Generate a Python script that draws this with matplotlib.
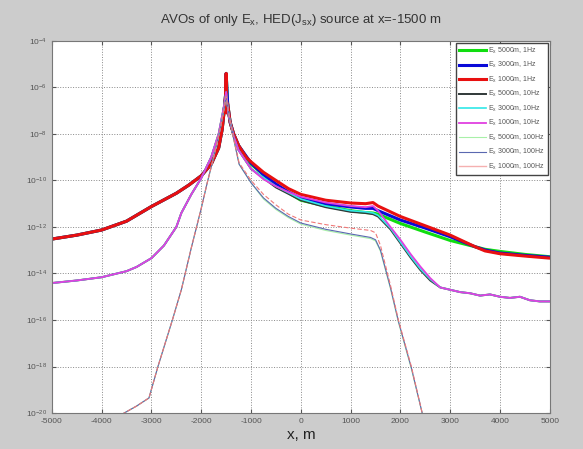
import matplotlib
matplotlib.use('Agg')
import matplotlib.pyplot as plt
import numpy as np

plt.rcParams['font.family'] = ['Liberation Sans', 'DejaVu Sans']
plt.rcParams['mathtext.fontset'] = 'custom'
plt.rcParams['mathtext.rm'] = 'Liberation Sans'
plt.rcParams['mathtext.it'] = 'Liberation Sans:italic'
plt.rcParams['axes.unicode_minus'] = False

# values are log10 of |Ex|
# shared left branches (x < source) per frequency
x_1hz_left = [-5000, -4500, -4000, -3500, -3000, -2500, -2250, -2000, -1800, -1650, -1580, -1540, -1510, -1500]
y_1hz_left = [-12.52, -12.35, -12.13, -11.75, -11.12, -10.55, -10.2, -9.8, -9.3, -8.6, -7.8, -7.0, -6.3, -5.4]

x_10hz_left = [-5000, -4500, -4000, -3500, -3300, -3000, -2750, -2500, -2400, -2200, -2000, -1800, -1650, -1550, -1500]
y_10hz_left = [-14.41, -14.3, -14.16, -13.9, -13.72, -13.34, -12.8, -12.0, -11.4, -10.6, -9.9, -9.0, -8.0, -6.9, -6.2]

x_100hz_left = [-3600, -3300, -3050, -2870, -2580, -2400, -2200, -2000, -1880, -1750, -1620, -1540, -1500]
y_100hz_left = [-20.06, -19.7, -19.35, -18.0, -16.0, -14.7, -12.9, -11.2, -10.1, -9.0, -7.8, -6.9, -6.4]

# right branches
x_red_r = [-1500, -1490, -1470, -1420, -1350, -1250, -1100, -1000, -750, -500, -250, 0, 500, 1000, 1300, 1450,
           1550, 2000, 2500, 3000, 3500, 3700, 4000, 4500, 5000]
y_red_r = [-5.4, -7.1, -6.7, -7.5, -8.0, -8.5, -9.0, -9.2, -9.65, -10.0, -10.35, -10.6, -10.85, -10.97, -11.0, -10.95,
           -11.1, -11.55, -11.95, -12.35, -12.85, -13.03, -13.15, -13.25, -13.34]

x_blue_r = [-1500, -1470, -1420, -1350, -1250, -1000, -750, -500, -250, 0, 500, 1000, 1300, 1450, 1550, 2000, 2500,
            3000, 3500, 3700, 4000, 4500, 5000]
y_blue_r = [-5.4, -6.7, -7.5, -8.0, -8.5, -9.25, -9.75, -10.15, -10.5, -10.75, -11.0, -11.14, -11.2, -11.2, -11.3,
            -11.7, -12.05, -12.42, -12.85, -12.99, -13.12, -13.22, -13.3]

x_green_r = [-1500, -1470, -1420, -1350, -1250, -1000, -500, 0, 500, 1000, 1300, 1450, 1550, 2000, 2500, 3000, 3500,
             3700, 4000, 4500, 5000]
y_green_r = [-5.4, -6.7, -7.5, -8.0, -8.5, -9.3, -10.2, -10.85, -11.1, -11.3, -11.38, -11.4, -11.45, -11.85, -12.22,
             -12.58, -12.85, -12.96, -13.05, -13.18, -13.28]

x_mag_r = [-1500, -1450, -1350, -1250, -1000, -750, -500, -250, 0, 500, 1000, 1300, 1450, 1550, 1800, 2000, 2200,
           2400, 2600, 2800, 3000, 3200, 3400, 3600, 3800, 4000, 4200, 4400, 4600, 4800, 5000]
y_mag_r = [-6.2, -7.2, -8.1, -8.7, -9.5, -9.95, -10.25, -10.5, -10.7, -10.95, -11.1, -11.15, -11.1, -11.3, -12.0,
           -12.55, -13.15, -13.7, -14.2, -14.6, -14.7, -14.8, -14.85, -14.95, -14.9, -15.0, -15.05, -15.0, -15.15,
           -15.2, -15.2]

x_black_r = [-1500, -1450, -1350, -1250, -1000, -500, 0, 500, 1000, 1300, 1450, 1550, 1800, 2000, 2200, 2400, 2600,
             2800, 3000, 3200, 3400, 3600, 3800, 4000, 4200, 4400, 4600, 4800, 5000]
y_black_r = [-6.2, -7.2, -8.1, -8.7, -9.5, -10.3, -10.85, -11.15, -11.35, -11.4, -11.45, -11.55, -12.1, -12.7, -13.3,
             -13.85, -14.3, -14.6, -14.7, -14.8, -14.85, -14.95, -14.9, -15.0, -15.05, -15.0, -15.15, -15.2, -15.2]

x_cyan_r = x_black_r
y_cyan_r = [-6.2, -7.2, -8.1, -8.7, -9.5, -10.25, -10.8, -11.1, -11.3, -11.35, -11.4, -11.5, -12.05, -12.65, -13.25,
            -13.8, -14.25, -14.6, -14.7, -14.8, -14.85, -14.95, -14.9, -15.0, -15.05, -15.0, -15.15, -15.2, -15.2]

x_pink_r = [-1500, -1440, -1350, -1240, -1000, -750, -500, -250, 0, 500, 1000, 1400, 1500, 1600, 1800, 1960, 2220, 2460]
y_pink_r = [-6.4, -7.2, -8.2, -9.24, -10.0, -10.6, -11.05, -11.45, -11.7, -11.9, -12.05, -12.15, -12.25, -12.8,
            -14.5, -16.0, -18.0, -20.2]

x_bthin_r = x_pink_r
y_bthin_r = [-6.4, -7.2, -8.2, -9.3, -10.1, -10.75, -11.2, -11.55, -11.83, -12.1, -12.3, -12.45, -12.55, -13.0,
             -14.6, -16.05, -18.05, -20.2]
y_gthin_r = [-6.4, -7.2, -8.2, -9.3, -10.1, -10.8, -11.25, -11.6, -11.88, -12.15, -12.35, -12.5, -12.6, -13.05,
             -14.65, -16.1, -18.1, -20.2]

labels = ['E$_\\mathrm{x}$ 5000m, 1Hz', 'E$_\\mathrm{x}$ 3000m, 1Hz', 'E$_\\mathrm{x}$ 1000m, 1Hz',
          'E$_\\mathrm{x}$ 5000m, 10Hz', 'E$_\\mathrm{x}$ 3000m, 10Hz', 'E$_\\mathrm{x}$ 1000m, 10Hz',
          'E$_\\mathrm{x}$ 5000m, 100Hz', 'E$_\\mathrm{x}$ 3000m, 100Hz', 'E$_\\mathrm{x}$ 1000m, 100Hz']


def join(xl, yl, xr, yr):
    x = np.array(list(xl) + list(xr[1:]))
    y = 10.0 ** np.array(list(yl) + list(yr[1:]))
    return x, y


series = [
    (join(x_1hz_left, y_1hz_left, x_green_r, y_green_r), '#10dd10', 2.2, '-'),
    (join(x_1hz_left, y_1hz_left, x_blue_r, y_blue_r), '#0a0ad8', 2.2, '-'),
    (join(x_1hz_left, y_1hz_left, x_red_r, y_red_r), '#e81010', 2.2, '-'),
    (join(x_10hz_left, y_10hz_left, x_black_r, y_black_r), '#303838', 1.4, '-'),
    (join(x_10hz_left, y_10hz_left, x_cyan_r, y_cyan_r), '#30e8e8', 1.2, '-'),
    (join(x_10hz_left, y_10hz_left, x_mag_r, y_mag_r), '#e040e0', 1.3, '-'),
    (join(x_100hz_left, y_100hz_left, x_bthin_r, y_gthin_r), '#a8f0a8', 0.8, '-'),
    (join(x_100hz_left, y_100hz_left, x_bthin_r, y_bthin_r), '#5a68b0', 0.8, '-'),
    (join(x_100hz_left, y_100hz_left, x_pink_r, y_pink_r), '#f07878', 0.8, (0, (4, 2))),
]

fig = plt.figure(figsize=(5.83, 4.49), dpi=100, facecolor='#cccccc')
ax = fig.add_axes([0.089, 0.08, 0.854, 0.829])
ax.set_facecolor('white')

for (x, y), c, lw, ls in series:
    ax.semilogy(x, y, color=c, lw=lw, ls=ls)

ax.set_xlim(-5000, 5000)
ax.set_ylim(1e-20, 1e-4)
ax.set_xticks(np.arange(-5000, 5001, 1000))
ax.set_yticks(10.0 ** np.arange(-20, -3, 2))
ax.yaxis.set_minor_locator(matplotlib.ticker.NullLocator())
ax.tick_params(labelsize=6, colors='#555555', length=3, direction='in', top=True, right=True)
ax.grid(True, ls=':', color='#888888', lw=0.7)
for s in ax.spines.values():
    s.set_color('#777777')

ax.set_title('AVOs of only E$_\\mathrm{x}$, HED(J$_\\mathrm{sx}$) source at x=-1500 m',
             fontsize=9.5, color='#333333', pad=13)
ax.set_xlabel('x, m', fontsize=11, color='#222222', labelpad=2)

leg_h = [plt.Line2D([], [], color=c, lw=lw) for (_, c, lw, _) in series]
leg_h[-1] = plt.Line2D([], [], color='#f5b0b0', lw=1)
leg = ax.legend(leg_h, labels, loc='upper right', fontsize=5, handlelength=3.8, labelspacing=0.62,
                borderpad=0.45, handletextpad=0.4, fancybox=False, framealpha=1, edgecolor='#444444',
                borderaxespad=0.25)
for t in leg.get_texts():
    t.set_color('#555555')

fig.savefig('out.png', dpi=100, facecolor=fig.get_facecolor())
